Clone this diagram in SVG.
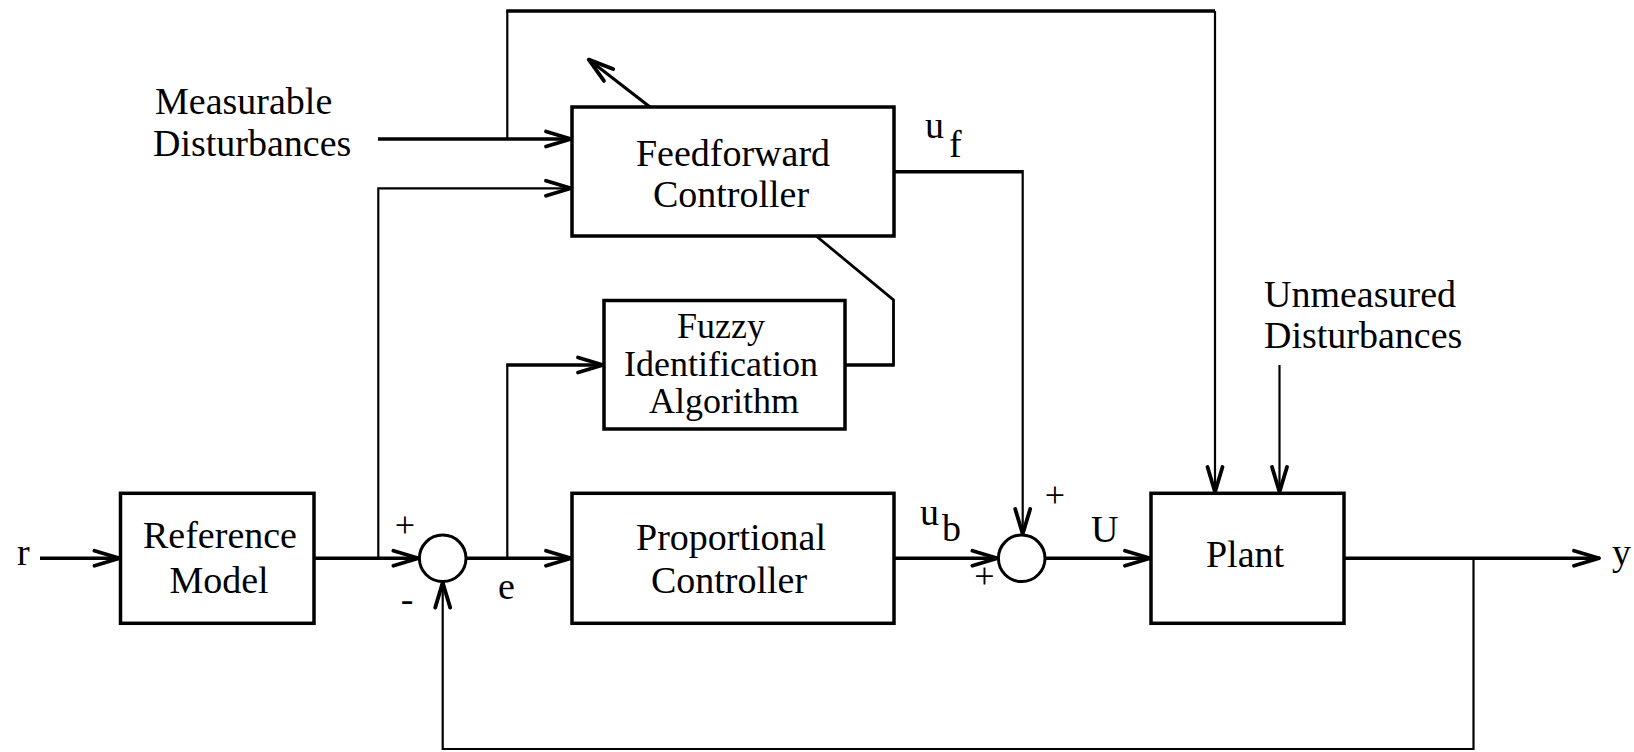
<svg xmlns="http://www.w3.org/2000/svg" width="1634" height="752" viewBox="0 0 1634 752">
<style>
text{font-family:"Liberation Serif","Times New Roman",serif;font-size:38px;fill:#000}
.c{text-anchor:middle}
.box{fill:#fff;stroke:#000;stroke-width:3.5}
.sum{fill:#fff;stroke:#000;stroke-width:3}
.thick{fill:none;stroke:#000;stroke-width:3.5}
.thin{fill:none;stroke:#000;stroke-width:2.2}
.pm{font-size:36px}
.fz{font-size:36px}
</style>
<defs>
<marker id="ah" viewBox="0 0 32 20" refX="30" refY="10" markerWidth="32" markerHeight="20" markerUnits="userSpaceOnUse" orient="auto">
<path d="M4,2.5 L29,10 L4,17.5" fill="none" stroke="#000" stroke-width="3.8" stroke-linejoin="round" stroke-linecap="round"/>
</marker>
</defs>
<rect width="1634" height="752" fill="#fff"/>
<g id="connectors">
<path class="thick" d="M40,558.3 H120.5" marker-end="url(#ah)"/>
<path class="thick" d="M314,558.3 H419.4" marker-end="url(#ah)"/>
<path class="thin" d="M378.3,558.3 V188.3 H572" marker-end="url(#ah)"/>
<path class="thick" d="M378,139 H572" marker-end="url(#ah)"/>
<path class="thin" d="M507.3,139 V11"/>
<path class="thick" d="M506.2,11 H1215"/>
<path class="thin" d="M1215,11 V493" marker-end="url(#ah)"/>
<path class="thick" d="M466,558.3 H572" marker-end="url(#ah)"/>
<path class="thin" d="M507.3,558.3 V365"/>
<path class="thick" d="M506.2,365 H604" marker-end="url(#ah)"/>
<path class="thick" d="M845,365 H893.5"/>
<path class="thin" d="M893.5,366.5 V300 L815,235" style="stroke-width:2.8"/>
<path class="thick" d="M650,107 L588,59" marker-end="url(#ah)" style="stroke-width:3"/>
<path class="thick" d="M894,171.7 H1022.7"/>
<path class="thin" d="M1022.7,170 V535" marker-end="url(#ah)"/>
<path class="thick" d="M894,558.3 H998.4" marker-end="url(#ah)"/>
<path class="thick" d="M1045,558.3 H1151" marker-end="url(#ah)"/>
<path class="thin" d="M1279.5,365 V493" marker-end="url(#ah)"/>
<path class="thick" d="M1344,558.3 H1600" marker-end="url(#ah)"/>
<path class="thin" d="M1473.5,558.3 V749 H442.7 V581.6" marker-end="url(#ah)"/>
</g>
<g id="label-measurable">
<text x="155" y="114">Measurable</text>
<text x="153" y="156">Disturbances</text>
</g>
<g id="label-unmeasured">
<text x="1264" y="307">Unmeasured</text>
<text x="1264" y="348">Disturbances</text>
</g>
<g id="feedforward">
<rect class="box" x="572" y="107" width="322" height="129"/>
<text class="c" x="733" y="166">Feedforward</text>
<text class="c" x="731" y="207">Controller</text>
</g>
<g id="fuzzy">
<rect class="box" x="604" y="300.5" width="241" height="128.5"/>
<text class="c fz" x="721" y="338">Fuzzy</text>
<text class="c fz" x="721" y="376">Identification</text>
<text class="c fz" x="724" y="413">Algorithm</text>
</g>
<g id="reference-model">
<rect class="box" x="120.5" y="493.3" width="193.5" height="130"/>
<text class="c" x="220" y="548">Reference</text>
<text class="c" x="219" y="593">Model</text>
</g>
<g id="proportional">
<rect class="box" x="572" y="493.3" width="322" height="130"/>
<text class="c" x="731" y="550">Proportional</text>
<text class="c" x="729" y="593">Controller</text>
</g>
<g id="plant">
<rect class="box" x="1151" y="493.3" width="193" height="130"/>
<text class="c" x="1245" y="567">Plant</text>
</g>
<g id="sum1">
<circle class="sum" cx="442.7" cy="558.3" r="23.3"/>
<text class="c pm" x="405" y="537">+</text>
<text class="c" x="407" y="612">-</text>
</g>
<g id="sum2">
<circle class="sum" cx="1021.7" cy="558.3" r="23.3"/>
<text class="c pm" x="1055" y="507">+</text>
<text class="c pm" x="984.3" y="587.5">+</text>
</g>
<g id="signal-labels">
<text x="17" y="565">r</text>
<text x="498" y="599">e</text>
<text x="925" y="138">u</text>
<text x="949" y="157">f</text>
<text x="920" y="525">u</text>
<text x="942" y="541">b</text>
<text x="1091" y="541.7">U</text>
<text x="1612" y="565">y</text>
</g>
</svg>
